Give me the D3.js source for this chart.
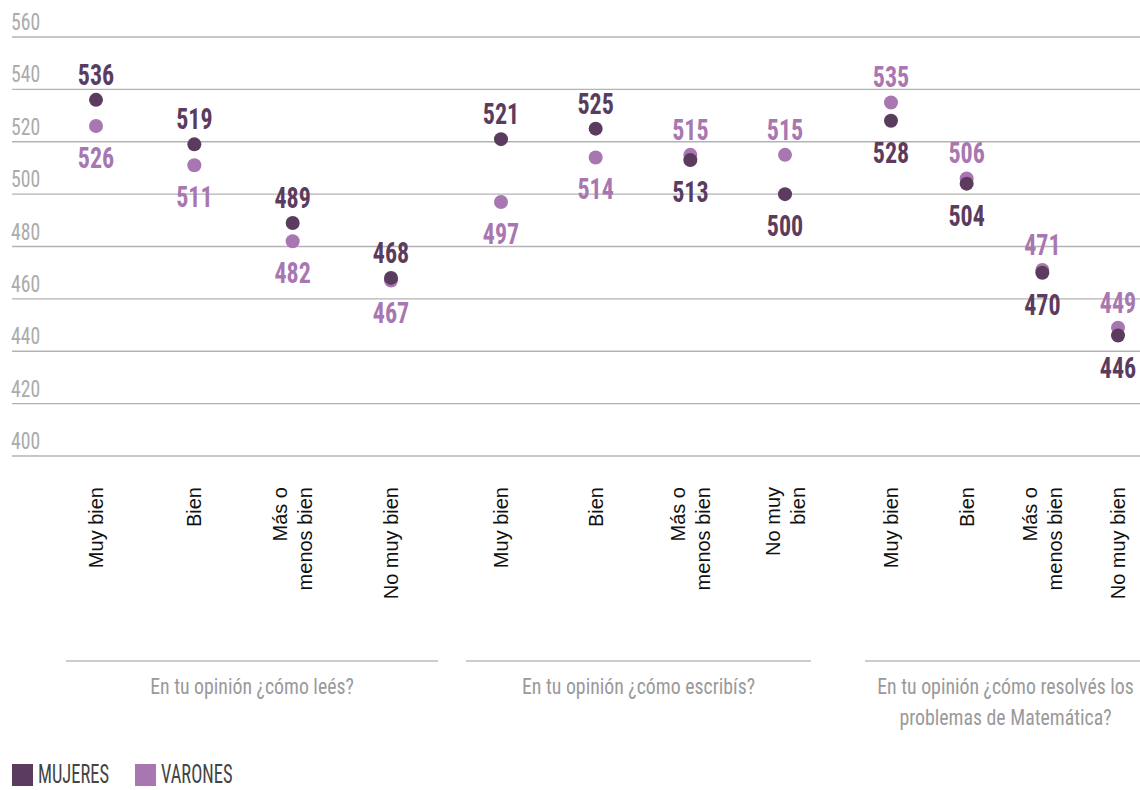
<!DOCTYPE html>
<html>
<head>
<meta charset="utf-8">
<script src="https://cdn.jsdelivr.net/npm/d3@7"></script>
<style>
  html, body { margin: 0; padding: 0; background: #fff; }
  svg { display: block; }
  .cond { font-family: "Liberation Sans Narrow", "Arial Narrow", "Roboto Condensed", "DejaVu Sans Condensed", sans-serif; }
</style>
</head>
<body>
<svg id="chart" width="1140" height="790"></svg>
<script>
// ---------- DATA ----------
const groupTitles = [
  ["En tu opinión ¿cómo leés?"],
  ["En tu opinión ¿cómo escribís?"],
  ["En tu opinión ¿cómo resolvés los", "problemas de Matemática?"]
];
const categories = ["Muy bien", "Bien", "Más o menos bien", "No muy bien"];
const categoryLabels = [
  [["Muy bien"], ["Bien"], ["Más o", "menos bien"], ["No muy bien"]],
  [["Muy bien"], ["Bien"], ["Más o", "menos bien"], ["No muy", "bien"]],
  [["Muy bien"], ["Bien"], ["Más o", "menos bien"], ["No muy bien"]]
];
const mujeresLee = [536, 519, 489, 468];
const varonesLee = [526, 511, 482, 467];
const mujeresEscribe = [521, 525, 513, 500];
const varonesEscribe = [497, 514, 515, 515];
const mujeresMate = [528, 504, 470, 446];
const varonesMate = [535, 506, 471, 449];
const yTicks = [400, 420, 440, 460, 480, 500, 520, 540, 560];
const seriesNames = ["MUJERES", "VARONES"];
const seriesColors = ["#5b3c5f", "#a877b1"];

const mujeres = [mujeresLee, mujeresEscribe, mujeresMate];
const varones = [varonesLee, varonesEscribe, varonesMate];

// ---------- LAYOUT ----------
const svg = d3.select("#chart");
const W = 1140;
const y = d3.scaleLinear().domain([400, 560]).range([456, 37]);

const groupExtents = [[66, 438], [466, 811], [865, 1140]];
const innerRanges = [[96, 391], [501, 785], [891, 1118]];
const xScales = innerRanges.map(r => d3.scalePoint().domain(categories).range(r));

// condensed text helper: position via transform, squeeze horizontally
function condText(sel, x, yy, sx) {
  return sel.append("text")
    .attr("class", "cond")
    .attr("transform", `translate(${x},${yy}) scale(${sx},1)`);
}

// Gridlines + y tick labels
const grid = svg.append("g");
grid.selectAll("line").data(yTicks).join("line")
  .attr("x1", 12).attr("x2", W)
  .attr("y1", d => y(d)).attr("y2", d => y(d))
  .attr("stroke", "#b3b3b3").attr("stroke-width", 1.3);
yTicks.forEach(d => {
  condText(grid, 11, y(d) - 7, 0.82)
    .attr("fill", "#ababab").attr("font-size", 24)
    .text(d);
});

// Points and labels
const pts = svg.append("g");
groupTitles.forEach((t, gi) => {
  const xs = xScales[gi];
  const rows = categories.map((c, i) => ({
    c, m: mujeres[gi][i], v: varones[gi][i]
  }));
  rows.forEach(r => {
    [["v", 1], ["m", 0]].forEach(([k, si]) => {
      pts.append("circle")
        .attr("cx", xs(r.c)).attr("cy", y(r[k]))
        .attr("r", 7).attr("fill", seriesColors[si]);
    });
    const mAbove = r.m > r.v;
    [["m", 0, mAbove], ["v", 1, !mAbove]].forEach(([k, si, above]) => {
      condText(pts, xs(r.c), above ? y(r[k]) - 15 : y(r[k]) + 42, 0.8)
        .attr("text-anchor", "middle")
        .attr("font-weight", "bold")
        .attr("font-size", 30)
        .attr("fill", seriesColors[si])
        .text(r[k]);
    });
  });

  // category tick labels (rotated)
  categoryLabels[gi].forEach((lines, i) => {
    const cx = xs(categories[i]);
    const lh = 25;
    const tx = svg.append("text")
      .attr("transform", `translate(${cx},487) rotate(-90)`)
      .attr("text-anchor", "end")
      .attr("font-family", "'Liberation Sans', Arial, sans-serif")
      .attr("font-size", 20)
      .attr("fill", "#111");
    lines.forEach((ln, li) => {
      tx.append("tspan")
        .attr("x", 0)
        .attr("y", (li - (lines.length - 1) / 2) * lh)
        .attr("dy", "0.35em")
        .text(ln);
    });
  });

  // group separator + title
  const [gx0, gx1] = groupExtents[gi];
  svg.append("line")
    .attr("x1", gx0).attr("x2", gx1).attr("y1", 661).attr("y2", 661)
    .attr("stroke", "#cccccc").attr("stroke-width", 2);
  t.forEach((ln, li) => {
    condText(svg, (gx0 + gx1) / 2 + (gi === 2 ? 3 : 0), 694 + li * 31, 0.88)
      .attr("text-anchor", "middle")
      .attr("font-size", 22.5)
      .attr("fill", "#9a9a9a")
      .text(ln);
  });
});

// Legend
const legend = svg.append("g");
const legendX = [12, 135];
seriesNames.forEach((n, i) => {
  const lx = legendX[i];
  legend.append("rect").attr("x", lx).attr("y", 764).attr("width", 21).attr("height", 22)
    .attr("fill", seriesColors[i]);
  condText(legend, lx + 26, 783, 0.74)
    .attr("font-size", 25).attr("fill", "#444")
    .text(n);
});
</script>
</body>
</html>
